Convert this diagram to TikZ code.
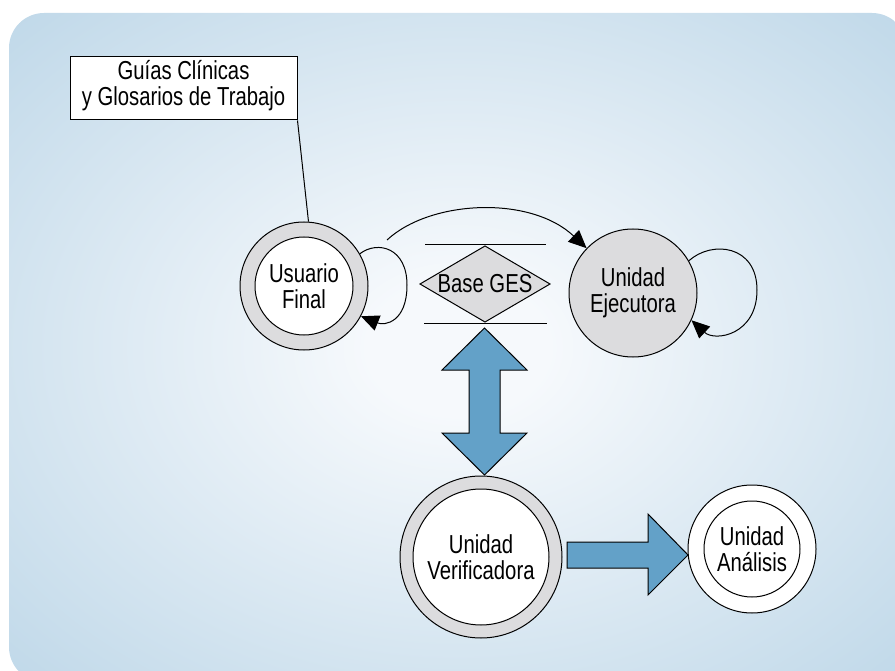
\documentclass[tikz,border=0pt]{standalone}
\usepackage{fontspec}
\setmainfont[FakeStretch=0.78]{Liberation Sans}
\usetikzlibrary{arrows.meta}
\definecolor{bgouter}{RGB}{178,208,228}
\definecolor{bginner}{RGB}{246,249,252}
\definecolor{ringgray}{RGB}{220,220,222}
\definecolor{arrowblue}{RGB}{99,161,200}
\pgfdeclareradialshading{bgshade}{\pgfpoint{0bp}{0bp}}{color(0bp)=(bginner); color(5bp)=(bginner); color(43bp)=(bgouter); color(75bp)=(bgouter)}
\tikzset{
  lbl/.style={font=\fontsize{26}{26}\selectfont, align=center, text=black},
  ringout/.style={circle, draw=black, line width=1pt, fill=ringgray, inner sep=0pt},
  ringin/.style={circle, draw=black, line width=1pt, fill=white, inner sep=0pt, lbl},
  conn/.style={draw=black, line width=1pt},
  tip/.style={-{Triangle[length=18pt,width=16pt]}},
  fatarrow/.style={draw=black, line width=1pt, fill=arrowblue, line join=miter}
}
\begin{document}
\begin{tikzpicture}[x=1pt,y=-1pt]
\useasboundingbox (0,0) rectangle (895,671);
% background
\begin{scope}
\clip (0,0) rectangle (895,671);
\shade[shading=bgshade] (9,13) [rounded corners=35pt] -- (9,682) -- (907,682) -- (907,13) -- cycle;
\end{scope}

% guide box
\node[draw=black, line width=1pt, fill=white, minimum width=227pt, minimum height=63pt, inner sep=0pt] (box) at (183.5,88.5) {};
\node[lbl] (boxt) at (183.5,86) {Guías Clínicas\\y Glosarios de Trabajo};

% Usuario Final
\node[ringout, minimum size=128pt] (uf) at (304,286) {};
\node[ringin, minimum size=98pt] (ufi) at (304,286) {Usuario\\Final};

% Unidad Ejecutora
\node[circle, draw=black, line width=1pt, fill=ringgray, inner sep=0pt, minimum size=128pt, lbl] (ue) at (633,293) {Unidad\\Ejecutora};

% Base GES
\coordinate (dl) at (420,284);
\coordinate (dr) at (550,284);
\coordinate (dt) at (485,246);
\coordinate (db) at (485,322);
\draw[line width=1pt, fill=ringgray, line join=miter] (dl) -- (dt) -- (dr) -- (db) -- cycle;
\node[lbl] (ges) at (485,284) {Base GES};
\coordinate (tl1) at (425,245);
\coordinate (tl2) at (546,245);
\coordinate (bl1) at (424,324);
\coordinate (bl2) at (547,324);
\draw[conn] (tl1) -- (tl2);
\draw[conn] (bl1) -- (bl2);

% Unidad Verificadora
\node[ringout, minimum size=162pt] (uv) at (481,557) {};
\node[ringin, minimum size=136pt] (uvi) at (481,557) {Unidad\\Verificadora};

% Unidad Analisis
\node[circle, draw=black, line width=1pt, fill=white, inner sep=0pt, minimum size=128pt] (ua) at (752,549) {};
\node[ringin, minimum size=96pt] (uai) at (752,549) {Unidad\\Análisis};

% connectors
\draw[conn] (box.south east) -- (uf.86);
\coordinate (cs) at (387,240);
\draw[conn, tip] (cs) .. controls (430,200) and (530,195) .. (ue.136);
\draw[conn, tip] (uf.30) .. controls (378,240) and (407,248) .. (407,285) .. controls (407,322) and (385,326) .. (uf.-28);
\draw[conn, tip] (ue.30) .. controls (712,240) and (757,245) .. (757,290) .. controls (757,335) and (715,342) .. (ue.-25);

% double vertical arrow
\draw[fatarrow] (484.5,328) -- (527,370) -- (500,370) -- (500,433) -- (527,433) -- (484.5,475) -- (442,433) -- (469,433) -- (469,370) -- (442,370) -- cycle;

% right arrow
\draw[fatarrow] (567,542) -- (648,542) -- (648,514) -- (688,555) -- (648,595) -- (648,568) -- (567,568) -- cycle;
\end{tikzpicture}
\end{document}
